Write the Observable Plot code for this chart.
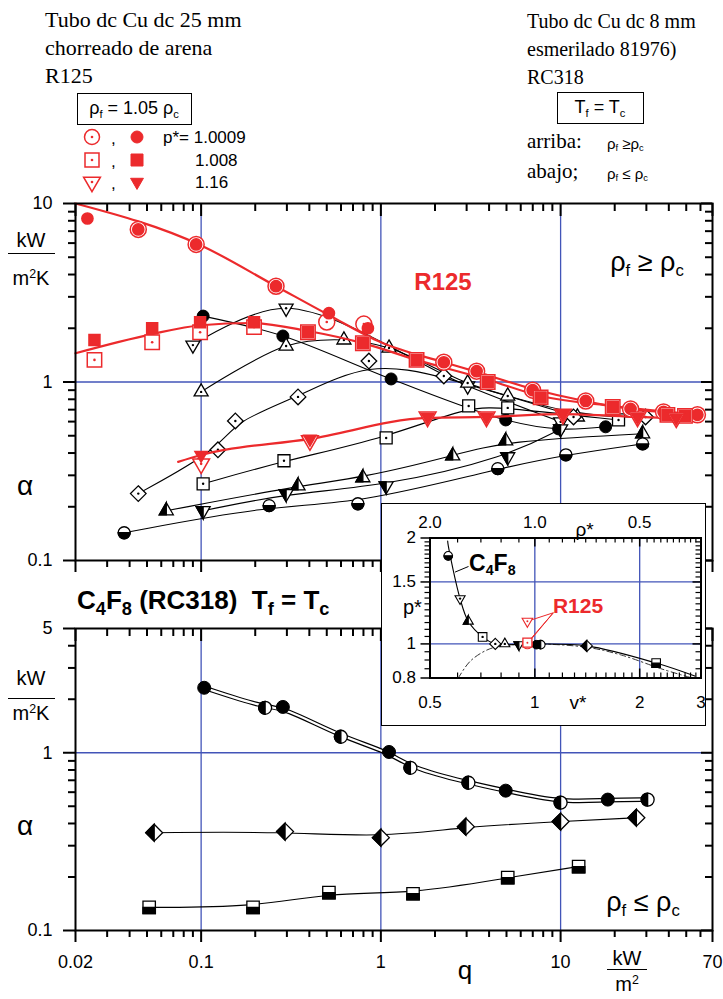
<!DOCTYPE html>
<html>
<head>
<meta charset="utf-8">
<script src="https://cdn.jsdelivr.net/npm/d3@7"></script>
<script src="https://cdn.jsdelivr.net/npm/@observablehq/plot@0.6"></script>
<style>
html,body{margin:0;padding:0;background:#fff;}
#root{position:relative;width:723px;height:999px;overflow:hidden;background:#fff;font-family:"Liberation Sans",Arial,sans-serif;color:#000;}
.t{position:absolute;white-space:nowrap;line-height:1;}
.c{transform:translate(-50%,-50%);}
.l{transform:translate(0,-50%);}
.serif{font-family:"Liberation Serif","Times New Roman",serif;}
sub{font-size:0.62em;vertical-align:-0.32em;line-height:0;}
sup{font-size:0.62em;vertical-align:0.55em;line-height:0;}
.box{position:absolute;border:1.6px solid #000;box-sizing:border-box;}
.hr{position:absolute;border-top:1.6px solid #000;height:0;}
</style>
</head>
<body>
<div id="root"></div>
<script>
// ===================== DATA =====================
// axis tick labels
const xTickLabels = [0.02, 0.1, 1, 10, 70];
const yTopTickLabels = [0.1, 1, 10];
const yBottomTickLabels = [0.1, 1, 5];
const gridQ = [0.1, 1, 10];
const insetVTickLabels = [0.5, 1, 2, 3];
const insetRhoTickLabels = [2.0, 1.0, 0.5];
const insetPTickLabels = [0.8, 1, 1.5, 2];
const insetGridV = [1, 2];
const insetGridP = [1, 1.5];

// ---- Top panel: R125 (red), rho_f = 1.05 rho_c ----
// p* = 1.0009 (circles)
const r125CircOpenQ = [0.0447, 0.0938, 0.261, 0.50, 0.804, 2.24, 3.41, 6.99, 13.8, 24.5, 37.4, 57.7];
const r125CircOpenA = [7.16, 5.9, 3.44, 2.17, 2.11, 1.29, 1.15, 0.90, 0.783, 0.707, 0.68, 0.655];
const r125CircFillQ = [0.0233, 0.0447, 0.0938, 0.261, 0.514, 0.847, 2.24, 3.41, 6.99, 13.8, 24.5, 37.4, 57.7];
const r125CircFillA = [8.24, 7.16, 5.9, 3.44, 2.43, 2.0, 1.29, 1.15, 0.90, 0.783, 0.707, 0.68, 0.655];
const r125CircFitQ = [0.02, 0.1, 0.261, 0.514, 1, 2.24, 3.41, 6.99, 13.8, 24.5, 59.9];
const r125CircFitA = [10, 5.82, 3.44, 2.37, 1.67, 1.29, 1.14, 0.914, 0.78, 0.706, 0.66];
// p* = 1.008 (squares)
const r125SqQ = [0.0255, 0.0534, 0.0987, 0.197, 0.393, 0.794, 1.58, 3.93, 7.74, 19.5, 39.3, 49.2];
const r125SqOpenA = [1.33, 1.67, 1.90, 2.03, 1.90, 1.65, 1.33, 1.0, 0.82, 0.725, 0.654, 0.646];
const r125SqFillA = [1.72, 2.0, 2.16, 2.16, 1.90, 1.65, 1.33, 1.0, 0.82, 0.725, 0.654, 0.646];
const r125SqFitQ = [0.02, 0.0527, 0.1, 0.19, 0.393, 0.794, 1.58, 3.93, 7.74, 19.5, 52.7];
const r125SqFitA = [1.45, 1.85, 2.08, 2.14, 1.93, 1.65, 1.33, 1.03, 0.835, 0.734, 0.663];
// p* = 1.16 (down triangles)
const r125TriQ = [0.1, 0.403, 1.82, 3.87, 10.3, 26.8, 44];
const r125TriOpenA = [0.348, 0.47, 0.637, 0.637, 0.66, 0.637, 0.63];
const r125TriFillA = [0.39, 0.48, 0.637, 0.637, 0.66, 0.637, 0.63];
const r125TriFitQ = [0.0745, 0.1, 0.403, 1.82, 3.87, 10.3, 26.8, 52.7];
const r125TriFitA = [0.357, 0.39, 0.48, 0.629, 0.637, 0.66, 0.637, 0.621];

// ---- Top panel: C4F8 (black), rho_f >= rho_c ----
const c4TopFullQ = [0.1026, 0.285, 1.14, 4.95, 9.75, 17.8];
const c4TopFullA = [2.34, 1.81, 1.04, 0.613, 0.546, 0.561];
const c4TopDnOpenQ = [0.09, 0.297, 3.04, 10];
const c4TopDnOpenA = [1.61, 2.59, 0.95, 0.598];
const c4TopUpOpenQ = [0.1, 0.297, 0.623, 1.11, 3.04, 5.08, 12.4];
const c4TopUpOpenA = [0.88, 1.59, 1.72, 1.55, 0.987, 0.835, 0.637];
const c4TopDiamQ = [0.0447, 0.124, 0.155, 0.346, 0.858, 2.24, 11.8, 29.7];
const c4TopDiamA = [0.237, 0.417, 0.605, 0.825, 1.31, 1.08, 0.637, 0.637];
const c4TopSqQ = [0.1026, 0.289, 1.07, 3.08, 5.08, 21.0];
const c4TopSqA = [0.269, 0.362, 0.486, 0.734, 0.716, 0.613];
const c4TopUpHalfQ = [0.064, 0.346, 0.794, 2.51, 4.95, 28.6];
const c4TopUpHalfA = [0.19, 0.262, 0.291, 0.386, 0.468, 0.513];
const c4TopDnHalfQ = [0.1026, 0.297, 1.07, 5.08, 10];
const c4TopDnHalfA = [0.19, 0.237, 0.262, 0.381, 0.546];
const c4TopSemiQ = [0.0373, 0.239, 0.745, 4.47, 10.7, 28.6];
const c4TopSemiA = [0.143, 0.203, 0.208, 0.327, 0.391, 0.45];

// ---- Bottom panel: C4F8, rho_f <= rho_c ----
const c4BotFullQ = [0.104, 0.285, 1.11, 4.95, 18.3];
const c4BotFullA = [2.32, 1.81, 1.01, 0.612, 0.545];
const c4BotHalfCQ = [0.227, 0.599, 1.46, 3.07, 10, 30.5];
const c4BotHalfCA = [1.79, 1.23, 0.823, 0.678, 0.524, 0.545];
const c4BotDiamQ = [0.0548, 0.293, 1.0, 2.97, 10, 26.4];
const c4BotDiamA = [0.355, 0.360, 0.333, 0.384, 0.410, 0.431];
const c4BotSqQ = [0.0514, 0.1945, 0.514, 1.51, 5.08, 12.6];
const c4BotSqA = [0.135, 0.135, 0.1634, 0.161, 0.1985, 0.229];

// ---- Inset: p*-v* diagram ----
const isoV = [0.562, 0.564, 0.61, 0.644, 0.708, 0.77, 1.0, 1.41, 2.23, 2.88];
const isoP = [1.96, 1.905, 1.345, 1.16, 1.047, 1.0, 1.0, 0.987, 0.882, 0.81];
const coexV = [0.603, 0.653, 0.74, 0.85, 1.0, 1.41, 1.77, 2.32, 2.83];
const coexP = [0.8, 0.894, 0.967, 0.993, 1.0, 0.978, 0.93, 0.848, 0.8];
const insetC4V = [0.564, 0.61, 0.644, 0.708, 0.77, 0.82, 0.9, 1.01, 1.04, 1.41, 2.23];
const insetC4P = [1.78, 1.345, 1.16, 1.047, 1.0, 1.0, 0.995, 0.995, 0.995, 0.987, 0.882];
const insetC4Kind = ["semi", "dnOpen", "upHalf", "sq", "diam", "upOpen", "dnHalf", "full", "halfC", "diamHalf", "sqHalf"];
const insetR125V = [0.952, 0.952, 0.952];
const insetR125P = [1.0009, 1.008, 1.16];
const insetR125Label = {v: 1.13, p: 1.226};
const insetC4Leader = {v1: 0.59, p1: 1.6, v2: 0.645, p2: 1.66};

// ===================== HELPERS =====================
const blue = "#4254b8";
const red = "#ec2a2c";
const rows = (q, a) => q.map((d, i) => ({q: d, a: a[i]}));

function sym(f) { return {draw(c, size) { f(c, Math.sqrt(size / Math.PI)); }}; }
const S = {
  circle: sym((c, r) => { c.moveTo(r, 0); c.arc(0, 0, r, 0, 2 * Math.PI); c.closePath(); }),
  square: sym((c, r) => { c.rect(-r, -r, 2 * r, 2 * r); }),
  triUp: sym((c, r) => { const R = r * 1.35; c.moveTo(0, -R); c.lineTo(0.866 * R, R / 2); c.lineTo(-0.866 * R, R / 2); c.closePath(); }),
  triDown: sym((c, r) => { const R = r * 1.35; c.moveTo(0, R); c.lineTo(0.866 * R, -R / 2); c.lineTo(-0.866 * R, -R / 2); c.closePath(); }),
  diamond: sym((c, r) => { const R = r * 1.3; c.moveTo(0, -R); c.lineTo(R, 0); c.lineTo(0, R); c.lineTo(-R, 0); c.closePath(); }),
  circleLeft: sym((c, r) => { c.moveTo(0, -r); c.arc(0, 0, r, -Math.PI / 2, Math.PI / 2, true); c.closePath(); }),
  circleBottom: sym((c, r) => { c.moveTo(r, 0); c.arc(0, 0, r, 0, Math.PI, false); c.closePath(); }),
  diamondLeft: sym((c, r) => { const R = r * 1.3; c.moveTo(0, -R); c.lineTo(-R, 0); c.lineTo(0, R); c.closePath(); }),
  triUpLeft: sym((c, r) => { const R = r * 1.35; c.moveTo(0, -R); c.lineTo(-0.866 * R, R / 2); c.lineTo(0, R / 2); c.closePath(); }),
  triDownLeft: sym((c, r) => { const R = r * 1.35; c.moveTo(0, R); c.lineTo(-0.866 * R, -R / 2); c.lineTo(0, -R / 2); c.closePath(); }),
  squareBottom: sym((c, r) => { c.rect(-r, 0, 2 * r, r); })
};
const KIND = {
  full: {shape: "circle", style: "fill"},
  dnOpen: {shape: "triDown", style: "open"},
  upOpen: {shape: "triUp", style: "open"},
  diam: {shape: "diamond", style: "open"},
  sq: {shape: "square", style: "open"},
  upHalf: {shape: "triUp", half: "triUpLeft", style: "half"},
  dnHalf: {shape: "triDown", half: "triDownLeft", style: "half"},
  semi: {shape: "circle", half: "circleBottom", style: "half"},
  halfC: {shape: "circle", half: "circleLeft", style: "half"},
  diamHalf: {shape: "diamond", half: "diamondLeft", style: "half"},
  sqHalf: {shape: "square", half: "squareBottom", style: "half"}
};
function markerMarks(data, kind, r, color = "black", sw = 1.3) {
  const k = KIND[kind];
  if (k.style === "fill") return [Plot.dot(data, {x: "q", y: "a", symbol: S[k.shape], r, fill: color, stroke: color, strokeWidth: 1})];
  if (k.style === "open") return [
    Plot.dot(data, {x: "q", y: "a", symbol: S[k.shape], r, fill: "white", stroke: color, strokeWidth: sw}),
    Plot.dot(data, {x: "q", y: "a", r: 1.2, fill: color, stroke: "none"})
  ];
  return [
    Plot.dot(data, {x: "q", y: "a", symbol: S[k.shape], r, fill: "white", stroke: color, strokeWidth: sw}),
    Plot.dot(data, {x: "q", y: "a", symbol: S[k.half], r, fill: color, stroke: color, strokeWidth: sw})
  ];
}
function minorLog(lo, hi) {
  const out = [];
  for (let e = -3; e < 3; e++) for (let m = 2; m <= 9; m++) {
    const v = +(m * Math.pow(10, e)).toPrecision(3);
    if (v > lo * 1.0001 && v < hi * 0.9999) out.push(v);
  }
  return out;
}
function stepTicks(lo, hi, step, exclude) {
  const out = [];
  for (let v = lo; v <= hi + 1e-9; v += step) {
    const w = +v.toFixed(3);
    if (!exclude.some(e => Math.abs(e - w) < 1e-6)) out.push(w);
  }
  return out;
}
const fmtTick = d => String(d);

// frame ticks for a log/log panel
function panelAxes(W, H, xMajor, xMinor, yMajor, yMinor, showXLabels) {
  return [
    Plot.axisY(yMajor, {anchor: "left", tickSize: 12, tickFormat: () => "", strokeWidth: 2, label: null}),
    Plot.axisY(yMinor, {anchor: "left", tickSize: 7, tickFormat: () => "", strokeWidth: 2, label: null}),
    Plot.text(yMajor, {y: d => d, text: fmtTick, frameAnchor: "left", dx: -23, textAnchor: "end", fontSize: 18}),
    Plot.tickY(yMajor, {y: d => d, insetLeft: W - 11, strokeWidth: 2}),
    Plot.tickY(yMinor, {y: d => d, insetLeft: W - 7, strokeWidth: 2}),
    Plot.axisX(xMajor, {anchor: "bottom", tickSize: 12, tickFormat: () => "", strokeWidth: 2, label: null}),
    Plot.axisX(xMinor, {anchor: "bottom", tickSize: 7, tickFormat: () => "", strokeWidth: 2, label: null}),
    showXLabels ? Plot.text(xMajor, {x: d => d, text: fmtTick, frameAnchor: "bottom", dy: 32, lineAnchor: "middle", fontSize: 18}) : null,
    Plot.tickX(xMajor, {x: d => d, insetBottom: H - 13, strokeWidth: 2}),
    Plot.tickX(xMinor, {x: d => d, insetBottom: H - 8, strokeWidth: 2}),
    Plot.frame({stroke: "black", strokeWidth: 2})
  ];
}

const root = document.getElementById("root");
function place(el, left, top) {
  el.style.position = "absolute"; el.style.left = left + "px"; el.style.top = top + "px"; el.style.overflow = "visible";
  root.appendChild(el); return el;
}
function html(s) { root.insertAdjacentHTML("beforeend", s); }

const plotStyle = {fontFamily: "'Liberation Sans', Arial, sans-serif", fontSize: "18px", color: "black", background: "transparent", overflow: "visible"};
const xMinorMain = minorLog(0.02, 70);

// ===================== TOP PANEL =====================
{
  const width = 723, height = 390, mL = 75, mR = 11, mT = 13, mB = 20;
  const W = width - mL - mR, H = height - mT - mB;
  const black = [
    {kind: "full", q: c4TopFullQ, a: c4TopFullA, curve: "catmull-rom"},
    {kind: "dnOpen", q: c4TopDnOpenQ, a: c4TopDnOpenA, curve: "catmull-rom"},
    {kind: "upOpen", q: c4TopUpOpenQ, a: c4TopUpOpenA, curve: "catmull-rom"},
    {kind: "diam", q: c4TopDiamQ, a: c4TopDiamA, curve: "basis"},
    {kind: "sq", q: c4TopSqQ, a: c4TopSqA, curve: "basis"},
    {kind: "upHalf", q: c4TopUpHalfQ, a: c4TopUpHalfA, curve: "basis"},
    {kind: "dnHalf", q: c4TopDnHalfQ, a: c4TopDnHalfA, curve: "basis"},
    {kind: "semi", q: c4TopSemiQ, a: c4TopSemiA, curve: "basis"}
  ];
  const svg = Plot.plot({
    width, height, marginLeft: mL, marginRight: mR, marginTop: mT, marginBottom: mB,
    x: {type: "log", domain: [0.02, 70], label: null},
    y: {type: "log", domain: [0.1, 10], label: null},
    style: plotStyle,
    marks: [
      Plot.ruleX(gridQ, {x: d => d, stroke: blue, strokeWidth: 1.3}),
      Plot.ruleY([1], {y: d => d, stroke: blue, strokeWidth: 1.3}),
      black.map(s => Plot.line(rows(s.q, s.a), {x: "q", y: "a", curve: s.curve, stroke: "black", strokeWidth: 1.1})),
      black.map(s => markerMarks(rows(s.q, s.a), s.kind, 6)),
      Plot.line(rows(r125CircFitQ, r125CircFitA), {x: "q", y: "a", curve: "monotone-x", stroke: red, strokeWidth: 2.2}),
      Plot.line(rows(r125SqFitQ, r125SqFitA), {x: "q", y: "a", curve: "monotone-x", stroke: red, strokeWidth: 2.2}),
      Plot.line(rows(r125TriFitQ, r125TriFitA), {x: "q", y: "a", curve: "monotone-x", stroke: red, strokeWidth: 2.2}),
      Plot.dot(rows(r125CircOpenQ, r125CircOpenA), {x: "q", y: "a", symbol: S.circle, r: 8, fill: "white", stroke: red, strokeWidth: 1.5}),
      Plot.dot(rows(r125CircOpenQ, r125CircOpenA), {x: "q", y: "a", r: 1.3, fill: red}),
      Plot.dot(rows(r125CircFillQ, r125CircFillA), {x: "q", y: "a", symbol: S.circle, r: 5.6, fill: red, stroke: red}),
      Plot.dot(rows(r125SqQ, r125SqOpenA), {x: "q", y: "a", symbol: S.square, r: 7.2, fill: "white", stroke: red, strokeWidth: 1.5}),
      Plot.dot(rows(r125SqQ, r125SqOpenA), {x: "q", y: "a", r: 1.3, fill: red}),
      Plot.dot(rows(r125SqQ, r125SqFillA), {x: "q", y: "a", symbol: S.square, r: 5.5, fill: red, stroke: red}),
      Plot.dot(rows(r125TriQ, r125TriOpenA), {x: "q", y: "a", symbol: S.triDown, r: 7.2, fill: "white", stroke: red, strokeWidth: 1.5}),
      Plot.dot(rows(r125TriQ, r125TriOpenA), {x: "q", y: "a", r: 1.3, fill: red}),
      Plot.dot(rows(r125TriQ, r125TriFillA), {x: "q", y: "a", symbol: S.triDown, r: 5.3, fill: red, stroke: red}),
      panelAxes(W, H, xTickLabels, xMinorMain, yTopTickLabels, minorLog(0.1, 10), false)
    ]
  });
  place(svg, 0, 190);
}

// ===================== BOTTOM PANEL =====================
{
  const width = 723, height = 370, mL = 75, mR = 11, mT = 18, mB = 50;
  const W = width - mL - mR, H = height - mT - mB;
  const pair = rows(c4BotFullQ.concat(c4BotHalfCQ), c4BotFullA.concat(c4BotHalfCA)).sort((u, v) => u.q - v.q);
  const svg = Plot.plot({
    width, height, marginLeft: mL, marginRight: mR, marginTop: mT, marginBottom: mB,
    x: {type: "log", domain: [0.02, 70], label: null},
    y: {type: "log", domain: [0.1, 5], label: null},
    style: plotStyle,
    marks: [
      Plot.ruleX(gridQ, {x: d => d, stroke: blue, strokeWidth: 1.3}),
      Plot.ruleY([1], {y: d => d, stroke: blue, strokeWidth: 1.3}),
      Plot.line(pair, {x: "q", y: "a", curve: "basis", stroke: "black", strokeWidth: 4.6}),
      Plot.line(pair, {x: "q", y: "a", curve: "basis", stroke: "white", strokeWidth: 2.2}),
      Plot.line(rows(c4BotDiamQ, c4BotDiamA), {x: "q", y: "a", curve: "basis", stroke: "black", strokeWidth: 1.1}),
      Plot.line(rows(c4BotSqQ, c4BotSqA), {x: "q", y: "a", curve: "basis", stroke: "black", strokeWidth: 1.1}),
      markerMarks(rows(c4BotFullQ, c4BotFullA), "full", 6.5),
      markerMarks(rows(c4BotHalfCQ, c4BotHalfCA), "halfC", 6.5),
      markerMarks(rows(c4BotDiamQ, c4BotDiamA), "diamHalf", 6.5),
      markerMarks(rows(c4BotSqQ, c4BotSqA), "sqHalf", 6.2),
      panelAxes(W, H, xTickLabels, xMinorMain, yBottomTickLabels, minorLog(0.1, 5), true)
    ]
  });
  place(svg, 0, 610);
}

// ===================== INSET =====================
{
  const box = document.createElement("div");
  box.style.cssText = "position:absolute;left:381px;top:503px;width:325px;height:223px;border:1.5px solid #000;box-sizing:border-box;background:#fff;";
  root.appendChild(box);
  const width = 322, height = 220, mL = 47.5, mR = 3.5, mT = 33.5, mB = 46.5;
  const W = width - mL - mR, H = height - mT - mB;
  const xMinor = stepTicks(0.6, 2.9, 0.1, insetVTickLabels);
  const yMinor = stepTicks(0.85, 1.95, 0.05, insetPTickLabels);
  const c4pts = insetC4V.map((v, i) => ({q: v, a: insetC4P[i], k: insetC4Kind[i]}));
  const r125 = rows(insetR125V, insetR125P);
  const leaders = r125.map(d => ({x1: insetR125Label.v, y1: insetR125Label.p, x2: d.q, y2: d.a}));
  const svg = Plot.plot({
    width, height, marginLeft: mL, marginRight: mR, marginTop: mT, marginBottom: mB,
    x: {type: "log", domain: [0.5, 3], label: null, axis: null},
    y: {type: "log", domain: [0.8, 2], label: null},
    style: {...plotStyle, fontSize: "17px"},
    marks: [
      Plot.ruleX(insetGridV, {x: d => d, stroke: blue, strokeWidth: 1.3}),
      Plot.ruleY(insetGridP, {y: d => d, stroke: blue, strokeWidth: 1.3}),
      Plot.line(rows(coexV, coexP), {x: "q", y: "a", curve: "catmull-rom", stroke: "#333", strokeWidth: 1, strokeDasharray: "6,3,1.5,3"}),
      Plot.line(rows(isoV, isoP), {x: "q", y: "a", curve: "catmull-rom", stroke: "black", strokeWidth: 1.1}),
      Plot.link([insetC4Leader], {x1: "v1", y1: "p1", x2: "v2", y2: "p2", stroke: "black", strokeWidth: 1}),
      Object.keys(KIND).map(k => markerMarks(c4pts.filter(d => d.k === k), k, 4.3, "black", 1.1)),
      Plot.link(leaders, {x1: "x1", y1: "y1", x2: "x2", y2: "y2", stroke: red, strokeWidth: 1}),
      Plot.dot([r125[0]], {x: "q", y: "a", symbol: S.circle, r: 5, fill: "white", stroke: red, strokeWidth: 1.1}),
      Plot.dot([r125[1]], {x: "q", y: "a", symbol: S.square, r: 4.5, fill: "white", stroke: red, strokeWidth: 1.3}),
      Plot.dot([r125[2]], {x: "q", y: "a", symbol: S.triDown, r: 4.5, fill: "white", stroke: red, strokeWidth: 1.1}),
      Plot.dot(r125.slice(1), {x: "q", y: "a", r: 1, fill: red}),
      // tick labels
      Plot.text(insetVTickLabels, {x: d => d, text: fmtTick, frameAnchor: "bottom", dy: 25, lineAnchor: "middle"}),
      Plot.text(insetRhoTickLabels, {x: d => 1 / d, text: d => d.toFixed(1), frameAnchor: "top", dy: -15, lineAnchor: "middle"}),
      Plot.text(insetPTickLabels, {y: d => d, text: fmtTick, frameAnchor: "left", dx: -14, textAnchor: "end"}),
      // ticks
      Plot.axisY(insetPTickLabels, {anchor: "left", tickSize: 9, tickFormat: () => "", strokeWidth: 1.5, label: null}),
      Plot.axisY(yMinor, {anchor: "left", tickSize: 5, tickFormat: () => "", strokeWidth: 1.2, label: null}),
      Plot.tickY(yMinor, {y: d => d, insetLeft: W - 5, strokeWidth: 1.2}),
      Plot.tickY(insetPTickLabels, {y: d => d, insetLeft: W - 8, strokeWidth: 1.5}),
      Plot.tickX(xMinor, {x: d => d, insetTop: H - 5, strokeWidth: 1.2}),
      Plot.tickX(insetVTickLabels, {x: d => d, insetTop: H - 9, strokeWidth: 1.5}),
      Plot.tickX(xMinor, {x: d => d, insetBottom: H - 5, strokeWidth: 1.2}),
      Plot.tickX(insetVTickLabels, {x: d => d, insetBottom: H - 9, strokeWidth: 1.5}),
      Plot.text([{t: "ρ*", v: 1.39}], {x: "v", text: "t", frameAnchor: "top", dy: -16, fontSize: 19}),
      Plot.text([{t: "p*", p: 1.267}], {y: "p", text: "t", frameAnchor: "left", dx: -27, fontSize: 20}),
      Plot.text([{t: "v*", v: 1.33}], {x: "v", text: "t", frameAnchor: "bottom", dy: 25, lineAnchor: "middle", fontSize: 19}),
      Plot.frame({stroke: "black", strokeWidth: 2})
    ]
  });
  svg.style.position = "absolute"; svg.style.left = "0px"; svg.style.top = "0px"; svg.style.overflow = "visible";
  box.appendChild(svg);
}

// ===================== TEXT & LEGENDS =====================
html(`<div class="t serif" style="left:45px;top:5.6px;font-size:22px;line-height:28px">Tubo dc Cu dc 25 mm<br>chorreado de arena<br>R125</div>`);
html(`<div class="t serif" style="left:527px;top:7px;font-size:20px;line-height:28px">Tubo dc Cu dc 8 mm<br>esmerilado 81976)<br>RC318</div>`);
html(`<div class="box" style="left:77px;top:93px;width:115px;height:32px"></div>`);
html(`<div class="t c" style="left:134px;top:108px;font-size:18px">ρ<sub>f</sub> = 1.05 ρ<sub>c</sub></div>`);
html(`<div class="box" style="left:557px;top:92px;width:87px;height:32px"></div>`);
html(`<div class="t c" style="left:600px;top:107px;font-size:18px">T<sub>f</sub> = T<sub>c</sub></div>`);
html(`<div class="t l serif" style="left:527px;top:141px;font-size:21px">arriba:</div>`);
html(`<div class="t l serif" style="left:527px;top:171px;font-size:21px">abajo;</div>`);
html(`<div class="t l" style="left:607px;top:143px;font-size:15px">ρ<sub>f</sub> ≥ρ<sub>c</sub></div>`);
html(`<div class="t l" style="left:607px;top:173px;font-size:15px">ρ<sub>f</sub> ≤ ρ<sub>c</sub></div>`);

// legend (symbols + labels)
{
  const sp = (shape, r) => { const p = d3.path(); S[shape].draw(p, Math.PI * r * r); return p.toString(); };
  const rowsY = [137, 160, 182];
  const shapes = [["circle", 7.5, 6], ["square", 7, 6], ["triDown", 7.2, 5.5]];
  let g = "";
  shapes.forEach(([s, ro, rf], i) => {
    const y = rowsY[i];
    g += `<path transform="translate(92,${y})" d="${sp(s, ro)}" fill="white" stroke="${red}" stroke-width="1.5"/>`;
    g += `<circle cx="92" cy="${y}" r="1.3" fill="${red}"/>`;
    g += `<path transform="translate(137,${y})" d="${sp(s, rf)}" fill="${red}" stroke="${red}"/>`;
  });
  html(`<svg style="position:absolute;left:0;top:0" width="723" height="200">${g}</svg>`);
  html(`<div class="t l" style="left:111px;top:138px;font-size:17px">,</div>`);
  html(`<div class="t l" style="left:111px;top:161px;font-size:17px">,</div>`);
  html(`<div class="t l" style="left:111px;top:183px;font-size:17px">,</div>`);
  html(`<div class="t l" style="left:163px;top:137px;font-size:17px">p*= 1.0009</div>`);
  html(`<div class="t l" style="left:195px;top:160px;font-size:17px">1.008</div>`);
  html(`<div class="t l" style="left:195px;top:182px;font-size:17px">1.16</div>`);
}

// top panel annotations
html(`<div class="t c" style="left:443px;top:282px;font-size:24px;font-weight:bold;color:${red}">R125</div>`);
html(`<div class="t c" style="left:647px;top:262px;font-size:27px">ρ<sub>f</sub> ≥ ρ<sub>c</sub></div>`);
html(`<div class="t c" style="left:31px;top:240px;font-size:20px">kW</div>`);
html(`<div class="hr" style="left:8px;top:253px;width:47px"></div>`);
html(`<div class="t c" style="left:31px;top:278px;font-size:20px">m<sup>2</sup>K</div>`);
html(`<div class="t c" style="left:25px;top:486px;font-size:28px">α</div>`);

// bottom panel annotations
html(`<div class="t l" style="left:77px;top:600px;font-size:26px;font-weight:bold">C<sub style="font-size:0.7em">4</sub>F<sub style="font-size:0.7em">8</sub> (RC318)&nbsp;&nbsp;T<sub style="font-size:0.7em">f</sub> = T<sub style="font-size:0.7em">c</sub></div>`);
html(`<div class="t c" style="left:31px;top:678px;font-size:20px">kW</div>`);
html(`<div class="hr" style="left:8px;top:698px;width:47px"></div>`);
html(`<div class="t c" style="left:31px;top:713px;font-size:20px">m<sup>2</sup>K</div>`);
html(`<div class="t c" style="left:25px;top:826px;font-size:28px">α</div>`);
html(`<div class="t c" style="left:643px;top:902px;font-size:27px">ρ<sub>f</sub> ≤ ρ<sub>c</sub></div>`);
html(`<div class="t c" style="left:465px;top:970px;font-size:26px">q</div>`);
html(`<div class="t c" style="left:627px;top:958px;font-size:20px">kW</div>`);
html(`<div class="hr" style="left:607px;top:969px;width:40px"></div>`);
html(`<div class="t c" style="left:627px;top:984px;font-size:20px">m<sup>2</sup></div>`);

// inset annotations
html(`<div class="t l" style="left:469px;top:563px;font-size:23px;font-weight:bold">C<sub>4</sub>F<sub>8</sub></div>`);
html(`<div class="t c" style="left:578px;top:605px;font-size:21px;font-weight:bold;color:${red}">R125</div>`);
</script>
</body>
</html>
